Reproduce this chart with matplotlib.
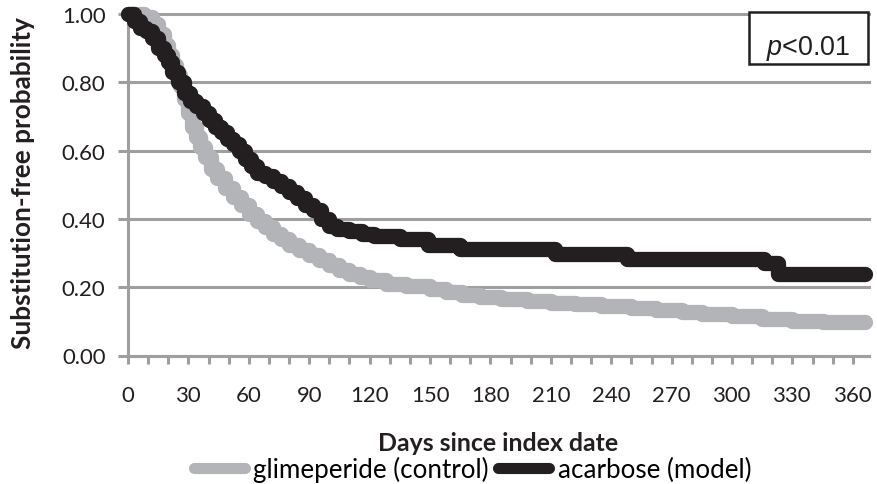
import matplotlib
matplotlib.use("Agg")
import matplotlib.pyplot as plt
from matplotlib.font_manager import FontProperties
from matplotlib.lines import Line2D
from matplotlib.patches import Rectangle
from matplotlib.textpath import TextPath
from matplotlib.ticker import MultipleLocator, FuncFormatter

# ── data ──────────────────────────────────────────────────────────────────
glim_days = [0, 8, 12, 15, 18, 20, 22, 24, 26, 28, 30, 32, 34, 36, 38, 41, 44,
             48, 52, 56, 60, 64, 68, 72, 76, 80, 85, 90, 95, 100, 105, 110,
             115, 120, 128, 138, 150, 158, 166, 175, 185, 198, 210, 222, 235,
             250, 262, 275, 285, 300, 315, 330, 345, 366]
glim_surv = [1.00, 0.99, 0.97, 0.94, 0.91, 0.88, 0.85, 0.82, 0.79, 0.75, 0.71,
             0.67, 0.64, 0.61, 0.58, 0.545, 0.52, 0.49, 0.465, 0.44, 0.415,
             0.395, 0.375, 0.355, 0.34, 0.325, 0.31, 0.295, 0.28, 0.265, 0.25,
             0.24, 0.23, 0.22, 0.21, 0.204, 0.195, 0.185, 0.178, 0.17, 0.165,
             0.16, 0.155, 0.15, 0.146, 0.14, 0.133, 0.127, 0.121, 0.115,
             0.108, 0.10, 0.098, 0.097]

acar_days = [0, 3, 6, 9, 12, 15, 18, 20, 22, 25, 28, 31, 34, 37, 40, 43, 46,
             49, 52, 55, 58, 61, 64, 68, 72, 76, 80, 84, 88, 92, 96, 100, 104,
             110, 116, 122, 135, 149, 165, 212, 248, 316, 323, 366]
acar_surv = [1.00, 0.98, 0.96, 0.95, 0.93, 0.90, 0.88, 0.86, 0.83, 0.80, 0.77,
             0.745, 0.73, 0.71, 0.69, 0.67, 0.655, 0.635, 0.62, 0.60, 0.575,
             0.555, 0.535, 0.525, 0.51, 0.495, 0.48, 0.46, 0.44, 0.425, 0.40,
             0.38, 0.37, 0.365, 0.355, 0.35, 0.34, 0.325, 0.313, 0.298, 0.283,
             0.272, 0.24, 0.24]

series_names = ["glimeperide (control)", "acarbose (model)"]
y_ticks = [0.0, 0.2, 0.4, 0.6, 0.8, 1.0]

GRID = "#9f9f9f"
INK = "#231f20"
DPI = 100
FONT = "Lato"


def fit_size(text, px, **font):
    """글자 폭이 px 픽셀이 되는 폰트 크기(pt)."""
    w = TextPath((0, 0), text, size=10, prop=FontProperties(**font)).get_extents().width
    return 10 * px / (w * DPI / 72)


tick_fs = fit_size("120", 36, family=FONT)
xlab_fs = fit_size("Days since index date", 238, family=FONT, weight="bold")
ylab_fs = fit_size("Substitution-free probability", 330, family=FONT, weight="bold")
leg_fs = fit_size(series_names[0], 233, family=FONT)
p_fs = fit_size("p<0.01", 80, family="Liberation Sans")

plt.rcParams["font.family"] = [FONT, "DejaVu Sans"]
plt.rcParams["mathtext.fontset"] = "custom"
plt.rcParams["mathtext.it"] = "Liberation Sans:italic"
plt.rcParams["mathtext.rm"] = "Liberation Sans"

fig = plt.figure(figsize=(8.77, 4.85), dpi=DPI)
L, R, T, B = 128, 869, 15, 356.5
ax = fig.add_axes([L / 877, 1 - B / 485, (R - L) / 877, (B - T) / 485])

ax.plot(glim_days, glim_surv, drawstyle="steps-post", color="#b3b4b7",
        lw=11, solid_capstyle="round", solid_joinstyle="round",
        clip_on=False, zorder=3)
ax.plot(acar_days, acar_surv, drawstyle="steps-post", color=INK,
        lw=11, solid_capstyle="round", solid_joinstyle="round",
        clip_on=False, zorder=4)

ax.set_xlim(0, 368)
ax.set_ylim(0, 1.0)
ax.set_yticks(y_ticks)
ax.yaxis.set_major_formatter(FuncFormatter(lambda v, _: f"{v:.2f}"))
ax.xaxis.set_major_locator(MultipleLocator(30))
ax.xaxis.set_minor_locator(MultipleLocator(10))

for s in ["top", "right"]:
    ax.spines[s].set_visible(False)
for s in ["left", "bottom"]:
    ax.spines[s].set_color(GRID)
    ax.spines[s].set_linewidth(2.2)

ax.grid(axis="y", color=GRID, lw=2.2)
ax.set_axisbelow(True)
for g in ax.get_ygridlines():
    g.set_clip_on(False)

ax.tick_params(axis="both", which="both", color=GRID, width=2.2,
               labelsize=tick_fs, labelcolor=INK)
ax.tick_params(axis="x", which="both", length=5.5, pad=16)
ax.tick_params(axis="y", length=7.2, pad=9)

ax.set_xlabel("Days since index date", fontsize=xlab_fs, fontweight="bold", color=INK)
ax.xaxis.set_label_coords(0.5, (B - 432) / (B - T))
ax.set_ylabel("Substitution-free probability", fontsize=ylab_fs,
              fontweight="bold", color=INK)
ax.yaxis.set_label_coords((23 - L) / (R - L), (B - 183) / (B - T))
ax.yaxis.label.set_verticalalignment("center")

# p-value box
ax.add_patch(Rectangle(((749 - L) / (R - L), (B - 65) / (B - T)),
                       119 / (R - L), 52 / (B - T), transform=ax.transAxes,
                       fc="white", ec=INK, lw=1.8, clip_on=False, zorder=6))
ax.text((808 - L) / (R - L), (B - 55) / (B - T), r"$\it{p}$<0.01",
        transform=ax.transAxes, ha="center", va="baseline", fontsize=p_fs,
        family="Liberation Sans", color=INK, zorder=7)

# legend
fpx = leg_fs * DPI / 72
handles = [Line2D([], [], color="#b3b4b7", lw=8, solid_capstyle="round"),
           Line2D([], [], color=INK, lw=8, solid_capstyle="round")]
fig.legend(handles, series_names, loc="center left",
           bbox_to_anchor=(193.5 / 877, 1 - 470 / 485), ncol=2, frameon=False,
           fontsize=leg_fs, handlelength=51 / fpx, handletextpad=8.5 / fpx,
           columnspacing=9.5 / fpx, borderpad=0, borderaxespad=0)

fig.savefig("out.png", dpi=DPI)
